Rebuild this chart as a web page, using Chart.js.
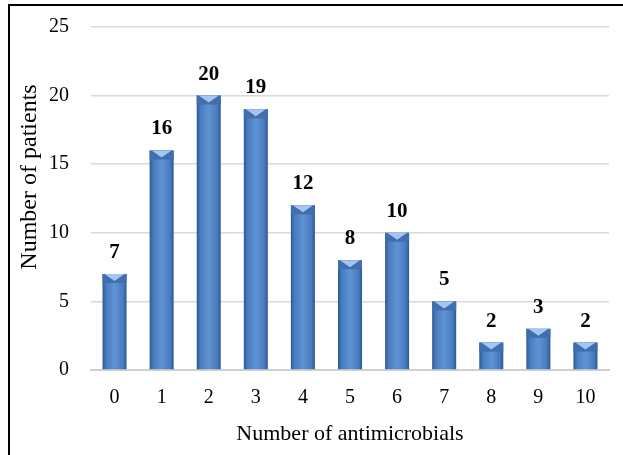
<!DOCTYPE html>
<html>
<head>
<meta charset="utf-8">
<script src="https://cdn.jsdelivr.net/npm/chart.js@4.4.1/dist/chart.umd.min.js"></script>
<style>
  html, body { margin: 0; padding: 0; background: #fff; overflow: hidden; }
  #wrap { position: relative; width: 623px; height: 455px; }
  #frame { position: absolute; left: 8px; top: 4px; width: 700px; height: 500px;
           border-left: 2px solid #000; border-top: 2px solid #000; }
  canvas { position: absolute; left: 0; top: 0; }
</style>
</head>
<body>
<div id="wrap">
  <div id="frame"></div>
  <canvas id="chart" width="623" height="455"></canvas>
</div>
<script>
const categories = ['0', '1', '2', '3', '4', '5', '6', '7', '8', '9', '10'];
const patients = [7, 16, 20, 19, 12, 8, 10, 5, 2, 3, 2];
const yTicks = [0, 5, 10, 15, 20, 25];
const barPct = 0.51;

const serif = '"Liberation Serif", "Times New Roman", serif';

// bar fill: dark edges, lighter middle (position taken from the x scale)
const barFill = (context) => {
    const chart = context.chart;
    const xs = chart.scales.x;
    if (!xs || context.dataIndex == null) return '#4f81bd';
    const cx = xs.getPixelForValue(context.dataIndex);
    const w = xs.width / categories.length * barPct;
    if (!Number.isFinite(cx) || !Number.isFinite(w) || w <= 0) return '#4f81bd';
    const g = chart.ctx.createLinearGradient(cx - w / 2, 0, cx + w / 2, 0);
    g.addColorStop(0, '#2b5892');
    g.addColorStop(0.15, '#487cbf');
    g.addColorStop(0.5, '#5e93d4');
    g.addColorStop(0.85, '#487cbf');
    g.addColorStop(1, '#2b5892');
    return g;
};

// bevel on top of each bar, value labels, y title
const extras = {
    id: 'extras',
    afterDatasetsDraw(chart) {
        const ctx = chart.ctx;
        const meta = chart.getDatasetMeta(0);
        ctx.save();
        meta.data.forEach((bar, i) => {
            const l = bar.x - bar.width / 2, r = bar.x + bar.width / 2;
            const t = bar.y, d = 7;
            ctx.fillStyle = '#3f6fae';
            ctx.fillRect(l, t, bar.width, d + 2);
            ctx.fillStyle = '#a6c6ef';
            ctx.beginPath();
            ctx.moveTo(l + 2, t);
            ctx.lineTo(r - 2, t);
            ctx.lineTo(bar.x, t + d);
            ctx.closePath();
            ctx.fill();

            ctx.fillStyle = '#000';
            ctx.font = 'bold 21px ' + serif;
            ctx.textAlign = 'center';
            ctx.textBaseline = 'alphabetic';
            ctx.fillText(patients[i], bar.x, t - 16);
        });
        ctx.translate(30, 177);
        ctx.rotate(-Math.PI / 2);
        ctx.fillStyle = '#000';
        ctx.font = '24px ' + serif;
        ctx.textAlign = 'center';
        ctx.textBaseline = 'middle';
        ctx.fillText('Number of patients', 0, 0);
        ctx.restore();
    }
};

new Chart(document.getElementById('chart').getContext('2d'), {
    type: 'bar',
    data: {
        labels: categories,
        datasets: [{
            data: patients,
            backgroundColor: barFill,
            borderWidth: 0,
            barPercentage: barPct,
            categoryPercentage: 1
        }]
    },
    options: {
        responsive: false,
        animation: false,
        layout: { padding: { left: 0, right: 14, top: 27, bottom: 0 } },
        plugins: { legend: { display: false }, tooltip: { enabled: false } },
        scales: {
            x: {
                grid: { display: false, drawTicks: false },
                border: { color: '#d0d0d0', width: 2 },
                ticks: { color: '#000', font: { family: serif, size: 20 }, padding: 16 },
                title: { display: true, text: 'Number of antimicrobials', color: '#000',
                         font: { family: serif, size: 22 }, padding: { top: 0, bottom: 8 } },
                afterFit(scale) { scale.height = 85; scale.paddingLeft = 0; scale.paddingRight = 0; }
            },
            y: {
                min: 0, max: 25,
                afterBuildTicks(scale) { scale.ticks = yTicks.map(v => ({ value: v })); },
                grid: { color: '#d9d9d9', lineWidth: 1.5, drawTicks: false },
                border: { display: false },
                ticks: { color: '#000', font: { family: serif, size: 20 }, padding: 22 },
                afterFit(scale) { scale.width = 91; scale.paddingTop = 0; scale.paddingBottom = 0; }
            }
        }
    },
    plugins: [extras]
});
</script>
</body>
</html>
